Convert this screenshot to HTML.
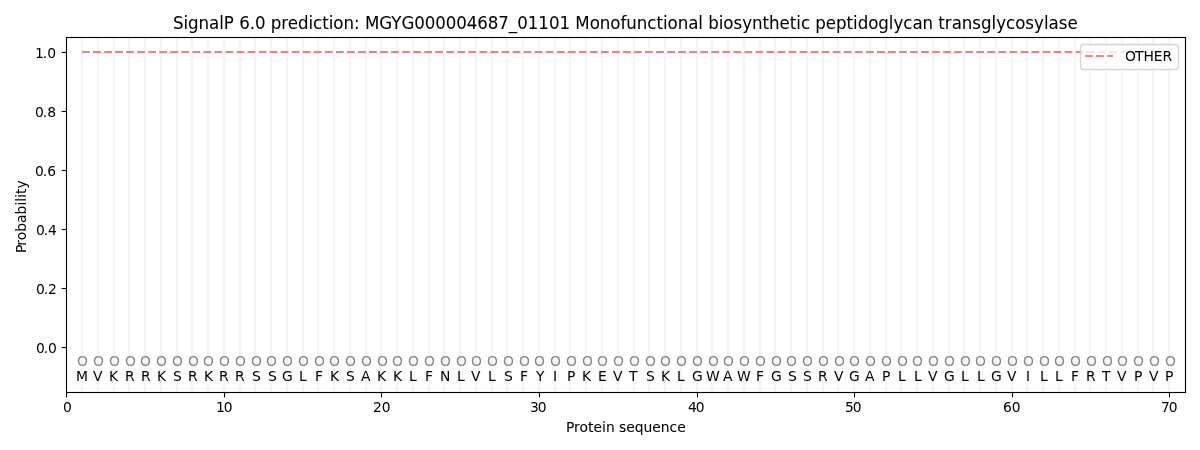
<!DOCTYPE html>
<html lang="en"><head><meta charset="utf-8">
<title>SignalP 6.0 prediction</title>
<style>
html,body{margin:0;padding:0;background:#fff;}
body{width:1200px;height:450px;overflow:hidden;}
svg{display:block;}
text{font-family:"DejaVu Sans","Liberation Sans",sans-serif;font-size:13.889px;fill:#000;}
.t{font-size:16.667px;}
.m{text-anchor:middle;}
.e{text-anchor:end;}
.g text{fill:#848484;}
.b1{stroke:#000;stroke-width:0.05;}
.b2{stroke:#000;stroke-width:0.06;}
.b3{stroke:#000;stroke-width:0.025;}
.fr{stroke:#f08080;stroke-width:4.083;fill:none;stroke-dasharray:7.708 3.333;stroke-opacity:0.052;}
.v{stroke:#f5f5f5;stroke-width:2.2;fill:none;}
.k{stroke:#000;stroke-width:1.111;fill:none;}
.sp{stroke:#000;stroke-width:1.111;fill:none;stroke-linecap:square;}
.d{stroke:#f08080;stroke-width:2.083;fill:none;stroke-dasharray:7.708 3.333;}
</style></head><body>
<svg width="1200" height="450" viewBox="0 0 1200 450">
<rect x="0" y="0" width="1200" height="450" fill="#fff"/>
<g class="v">
<line x1="82" y1="37.5" x2="82" y2="392.5"/>
<line x1="98" y1="37.5" x2="98" y2="392.5"/>
<line x1="114" y1="37.5" x2="114" y2="392.5"/>
<line x1="129" y1="37.5" x2="129" y2="392.5"/>
<line x1="145" y1="37.5" x2="145" y2="392.5"/>
<line x1="161" y1="37.5" x2="161" y2="392.5"/>
<line x1="177" y1="37.5" x2="177" y2="392.5"/>
<line x1="192" y1="37.5" x2="192" y2="392.5"/>
<line x1="208" y1="37.5" x2="208" y2="392.5"/>
<line x1="224" y1="37.5" x2="224" y2="392.5"/>
<line x1="240" y1="37.5" x2="240" y2="392.5"/>
<line x1="255" y1="37.5" x2="255" y2="392.5"/>
<line x1="271" y1="37.5" x2="271" y2="392.5"/>
<line x1="287" y1="37.5" x2="287" y2="392.5"/>
<line x1="303" y1="37.5" x2="303" y2="392.5"/>
<line x1="318" y1="37.5" x2="318" y2="392.5"/>
<line x1="334" y1="37.5" x2="334" y2="392.5"/>
<line x1="350" y1="37.5" x2="350" y2="392.5"/>
<line x1="366" y1="37.5" x2="366" y2="392.5"/>
<line x1="381" y1="37.5" x2="381" y2="392.5"/>
<line x1="397" y1="37.5" x2="397" y2="392.5"/>
<line x1="413" y1="37.5" x2="413" y2="392.5"/>
<line x1="429" y1="37.5" x2="429" y2="392.5"/>
<line x1="444" y1="37.5" x2="444" y2="392.5"/>
<line x1="460" y1="37.5" x2="460" y2="392.5"/>
<line x1="476" y1="37.5" x2="476" y2="392.5"/>
<line x1="492" y1="37.5" x2="492" y2="392.5"/>
<line x1="507" y1="37.5" x2="507" y2="392.5"/>
<line x1="523" y1="37.5" x2="523" y2="392.5"/>
<line x1="539" y1="37.5" x2="539" y2="392.5"/>
<line x1="555" y1="37.5" x2="555" y2="392.5"/>
<line x1="570" y1="37.5" x2="570" y2="392.5"/>
<line x1="586" y1="37.5" x2="586" y2="392.5"/>
<line x1="602" y1="37.5" x2="602" y2="392.5"/>
<line x1="618" y1="37.5" x2="618" y2="392.5"/>
<line x1="634" y1="37.5" x2="634" y2="392.5"/>
<line x1="649" y1="37.5" x2="649" y2="392.5"/>
<line x1="665" y1="37.5" x2="665" y2="392.5"/>
<line x1="681" y1="37.5" x2="681" y2="392.5"/>
<line x1="697" y1="37.5" x2="697" y2="392.5"/>
<line x1="712" y1="37.5" x2="712" y2="392.5"/>
<line x1="728" y1="37.5" x2="728" y2="392.5"/>
<line x1="744" y1="37.5" x2="744" y2="392.5"/>
<line x1="760" y1="37.5" x2="760" y2="392.5"/>
<line x1="775" y1="37.5" x2="775" y2="392.5"/>
<line x1="791" y1="37.5" x2="791" y2="392.5"/>
<line x1="807" y1="37.5" x2="807" y2="392.5"/>
<line x1="823" y1="37.5" x2="823" y2="392.5"/>
<line x1="838" y1="37.5" x2="838" y2="392.5"/>
<line x1="854" y1="37.5" x2="854" y2="392.5"/>
<line x1="870" y1="37.5" x2="870" y2="392.5"/>
<line x1="886" y1="37.5" x2="886" y2="392.5"/>
<line x1="901" y1="37.5" x2="901" y2="392.5"/>
<line x1="917" y1="37.5" x2="917" y2="392.5"/>
<line x1="933" y1="37.5" x2="933" y2="392.5"/>
<line x1="949" y1="37.5" x2="949" y2="392.5"/>
<line x1="964" y1="37.5" x2="964" y2="392.5"/>
<line x1="980" y1="37.5" x2="980" y2="392.5"/>
<line x1="996" y1="37.5" x2="996" y2="392.5"/>
<line x1="1012" y1="37.5" x2="1012" y2="392.5"/>
<line x1="1027" y1="37.5" x2="1027" y2="392.5"/>
<line x1="1043" y1="37.5" x2="1043" y2="392.5"/>
<line x1="1059" y1="37.5" x2="1059" y2="392.5"/>
<line x1="1075" y1="37.5" x2="1075" y2="392.5"/>
<line x1="1090" y1="37.5" x2="1090" y2="392.5"/>
<line x1="1106" y1="37.5" x2="1106" y2="392.5"/>
<line x1="1122" y1="37.5" x2="1122" y2="392.5"/>
<line x1="1138" y1="37.5" x2="1138" y2="392.5"/>
<line x1="1153" y1="37.5" x2="1153" y2="392.5"/>
<line x1="1169" y1="37.5" x2="1169" y2="392.5"/>
</g>
<line class="fr" x1="82" y1="52" x2="1169" y2="52"/>
<line class="d" x1="82" y1="52" x2="1169" y2="52"/>
<g class="k">
<line x1="66.5" y1="392.5" x2="66.5" y2="397.361"/>
<line x1="224.5" y1="392.5" x2="224.5" y2="397.361"/>
<line x1="381.5" y1="392.5" x2="381.5" y2="397.361"/>
<line x1="539.5" y1="392.5" x2="539.5" y2="397.361"/>
<line x1="697.5" y1="392.5" x2="697.5" y2="397.361"/>
<line x1="854.5" y1="392.5" x2="854.5" y2="397.361"/>
<line x1="1012.5" y1="392.5" x2="1012.5" y2="397.361"/>
<line x1="1169.5" y1="392.5" x2="1169.5" y2="397.361"/>
<line x1="61.639" y1="347.5" x2="66.5" y2="347.5"/>
<line x1="61.639" y1="288.5" x2="66.5" y2="288.5"/>
<line x1="61.639" y1="229.5" x2="66.5" y2="229.5"/>
<line x1="61.639" y1="170.5" x2="66.5" y2="170.5"/>
<line x1="61.639" y1="111.5" x2="66.5" y2="111.5"/>
<line x1="61.639" y1="52.5" x2="66.5" y2="52.5"/>
</g>
<g>
<text class="m" x="67.303" y="411.998">0</text>
<text x="215.897 223.772" y="411.998">10</text>
<text x="372.891 381.641" y="411.998">20</text>
<text x="529.947 537.697" y="411.998">30</text>
<text x="687.949 695.699" y="411.998">40</text>
<text x="844.88 852.63" y="411.998">50</text>
<text x="1002.889 1011.764" y="411.998">60</text>
<text x="1160.883 1168.633" y="411.998">70</text>
</g>
<g>
<text x="35.886 43.636 48.011" y="352.7">0.0</text>
<text x="35.951 43.701 48.076" y="293.635">0.2</text>
<text x="35.996 43.746 48.121" y="234.571">0.4</text>
<text x="35.036 42.786 47.161" y="175.506">0.6</text>
<text x="35.026 42.776 47.151" y="117.441">0.8</text>
<text x="34.921 42.796 47.171" y="58.376">1.0</text>
</g>
<text class="b2" x="565.999 574.124 579.624 588.124 593.624 602.124 605.999 614.749 619.124 626.249 634.749 643.624 652.374 660.874 669.624 677.249" y="431.995">Protein sequence</text>
<text class="b3" transform="translate(25.524 214.528) rotate(-90)" x="-38.483 -31.358 -25.858 -17.358 -8.482 0.142 9.018 12.893 16.767 20.642 26.142" y="0">Probability</text>
<rect class="sp" x="66.5" y="37.5" width="1119" height="355"/>
<g class="g">
<text class="m" x="82.404" y="366.427">O</text>
<text class="m" x="98.366" y="366.427">O</text>
<text class="m" x="114.448" y="366.427">O</text>
<text class="m" x="130.354" y="366.427">O</text>
<text class="m" x="145.461" y="366.427">O</text>
<text class="m" x="161.583" y="366.427">O</text>
<text class="m" x="177.574" y="366.427">O</text>
<text class="m" x="193.381" y="366.427">O</text>
<text class="m" x="208.338" y="366.427">O</text>
<text class="m" x="224.369" y="366.427">O</text>
<text class="m" x="240.376" y="366.427">O</text>
<text class="m" x="256.408" y="366.427">O</text>
<text class="m" x="271.364" y="366.427">O</text>
<text class="m" x="287.346" y="366.427">O</text>
<text class="m" x="303.453" y="366.427">O</text>
<text class="m" x="319.434" y="366.427">O</text>
<text class="m" x="334.391" y="366.427">O</text>
<text class="m" x="350.447" y="366.427">O</text>
<text class="m" x="366.569" y="366.427">O</text>
<text class="m" x="382.381" y="366.427">O</text>
<text class="m" x="397.417" y="366.427">O</text>
<text class="m" x="413.379" y="366.427">O</text>
<text class="m" x="429.571" y="366.427">O</text>
<text class="m" x="445.387" y="366.427">O</text>
<text class="m" x="461.549" y="366.427">O</text>
<text class="m" x="476.551" y="366.427">O</text>
<text class="m" x="492.572" y="366.427">O</text>
<text class="m" x="508.339" y="366.427">O</text>
<text class="m" x="524.426" y="366.427">O</text>
<text class="m" x="539.412" y="366.427">O</text>
<text class="m" x="555.584" y="366.427">O</text>
<text class="m" x="571.366" y="366.427">O</text>
<text class="m" x="587.367" y="366.427">O</text>
<text class="m" x="602.409" y="366.427">O</text>
<text class="m" x="618.441" y="366.427">O</text>
<text class="m" x="634.387" y="366.427">O</text>
<text class="m" x="650.529" y="366.427">O</text>
<text class="m" x="665.381" y="366.427">O</text>
<text class="m" x="681.567" y="366.427">O</text>
<text class="m" x="697.544" y="366.427">O</text>
<text class="m" x="713.455" y="366.427">O</text>
<text class="m" x="728.407" y="366.427">O</text>
<text class="m" x="744.434" y="366.427">O</text>
<text class="m" x="760.585" y="366.427">O</text>
<text class="m" x="776.532" y="366.427">O</text>
<text class="m" x="791.519" y="366.427">O</text>
<text class="m" x="807.5" y="366.427">O</text>
<text class="m" x="823.352" y="366.427">O</text>
<text class="m" x="839.404" y="366.427">O</text>
<text class="m" x="854.46" y="366.427">O</text>
<text class="m" x="870.337" y="366.427">O</text>
<text class="m" x="886.449" y="366.427">O</text>
<text class="m" x="902.43" y="366.427">O</text>
<text class="m" x="917.387" y="366.427">O</text>
<text class="m" x="933.364" y="366.427">O</text>
<text class="m" x="949.44" y="366.427">O</text>
<text class="m" x="965.457" y="366.427">O</text>
<text class="m" x="980.414" y="366.427">O</text>
<text class="m" x="996.425" y="366.427">O</text>
<text class="m" x="1012.402" y="366.427">O</text>
<text class="m" x="1028.483" y="366.427">O</text>
<text class="m" x="1044.44" y="366.427">O</text>
<text class="m" x="1059.347" y="366.477">O</text>
<text class="m" x="1075.568" y="366.427">O</text>
<text class="m" x="1091.46" y="366.427">O</text>
<text class="m" x="1107.472" y="366.427">O</text>
<text class="m" x="1122.573" y="366.427">O</text>
<text class="m" x="1138.46" y="366.427">O</text>
<text class="m" x="1154.472" y="366.427">O</text>
<text class="m" x="1170.363" y="366.427">O</text>
</g>
<g>
<text class="m" x="81.969" y="380.788">M</text>
<text class="m" x="97.666" y="380.788">V</text>
<text class="m" x="113.548" y="380.788">K</text>
<text class="m" x="129.704" y="380.788">R</text>
<text class="m" x="145.761" y="380.788">R</text>
<text class="m" x="161.518" y="380.788">K</text>
<text class="m" x="177.324" y="380.788">S</text>
<text class="m" x="192.731" y="380.788">R</text>
<text class="m" x="208.488" y="380.738">K</text>
<text class="m" x="223.844" y="380.788">R</text>
<text class="m" x="239.726" y="380.788">R</text>
<text class="m" x="256.358" y="380.788">S</text>
<text class="m" x="272.284" y="380.788">S</text>
<text class="m" x="287.296" y="380.788">G</text>
<text class="m" x="302.803" y="380.788">L</text>
<text class="m" x="318.874" y="380.788">F</text>
<text class="m" x="334.541" y="380.738">K</text>
<text class="m" x="350.397" y="380.788">S</text>
<text class="m" x="365.724" y="380.788">A</text>
<text class="m" x="381.661" y="380.788">K</text>
<text class="m" x="397.567" y="380.738">K</text>
<text class="m" x="412.924" y="380.788">L</text>
<text class="m" x="428.931" y="380.788">F</text>
<text class="m" x="445.137" y="380.788">N</text>
<text class="m" x="460.819" y="380.788">L</text>
<text class="m" x="475.701" y="380.788">V</text>
<text class="m" x="491.832" y="380.788">L</text>
<text class="m" x="508.339" y="380.788">S</text>
<text class="m" x="524.021" y="380.788">F</text>
<text class="m" x="540.132" y="380.788">Y</text>
<text class="m" x="554.984" y="380.788">I</text>
<text class="m" x="571.116" y="380.788">P</text>
<text class="m" x="586.497" y="380.788">K</text>
<text class="m" x="602.354" y="380.788">E</text>
<text class="m" x="617.636" y="380.788">V</text>
<text class="m" x="633.287" y="380.788">T</text>
<text class="m" x="650.374" y="380.788">S</text>
<text class="m" x="665.431" y="380.738">K</text>
<text class="m" x="680.787" y="380.788">L</text>
<text class="m" x="697.374" y="380.788">G</text>
<text class="m" x="712.775" y="380.738">W</text>
<text class="m" x="727.787" y="380.788">A</text>
<text class="m" x="743.814" y="380.788">W</text>
<text class="m" x="759.92" y="380.788">F</text>
<text class="m" x="776.327" y="380.788">G</text>
<text class="m" x="792.304" y="380.788">S</text>
<text class="m" x="807.34" y="380.788">S</text>
<text class="m" x="822.722" y="380.788">R</text>
<text class="m" x="838.729" y="380.788">V</text>
<text class="m" x="854.31" y="380.788">G</text>
<text class="m" x="869.762" y="380.788">A</text>
<text class="m" x="886.074" y="380.738">P</text>
<text class="m" x="901.78" y="380.788">L</text>
<text class="m" x="917.887" y="380.788">L</text>
<text class="m" x="932.644" y="380.788">V</text>
<text class="m" x="949.325" y="380.788">G</text>
<text class="m" x="964.807" y="380.788">L</text>
<text class="m" x="980.914" y="380.788">L</text>
<text class="m" x="996.345" y="380.788">G</text>
<text class="m" x="1011.677" y="380.788">V</text>
<text class="m" x="1028.008" y="380.788">I</text>
<text class="m" x="1043.94" y="380.788">L</text>
<text class="m" x="1058.947" y="380.788">L</text>
<text class="m" x="1074.953" y="380.788">F</text>
<text class="m" x="1090.71" y="380.788">R</text>
<text class="m" x="1106.217" y="380.788">T</text>
<text class="m" x="1121.723" y="380.788">V</text>
<text class="m" x="1138.13" y="380.738">P</text>
<text class="m" x="1153.737" y="380.788">V</text>
<text class="m" x="1169.243" y="380.788">P</text>
</g>
<text class="t b1" transform="translate(0 29) scale(1 1.07) translate(0 -29)" x="172.999 183.499 188.124 198.624 209.124 219.249 223.874 233.999 239.249 249.749 254.999 265.499 270.749 281.249 287.749 297.999 308.499 313.124 322.249 328.749 333.374 343.499 353.999 359.749 364.999 379.374 391.374 401.499 414.374 424.874 435.374 445.874 456.374 466.874 477.374 487.874 498.374 508.874 517.249 527.749 538.374 548.999 559.499 570.124 575.374 589.749 599.874 610.374 620.499 626.374 636.874 647.374 656.499 662.999 667.624 677.749 688.249 698.374 702.999 708.249 718.749 723.374 733.499 742.249 752.124 762.624 769.124 779.624 789.874 796.374 800.999 810.124 815.374 825.874 836.124 846.624 853.124 857.749 868.249 878.374 888.874 893.499 903.374 912.499 922.624 933.124 938.374 944.874 951.749 961.874 972.374 981.124 991.624 996.249 1006.124 1015.249 1025.374 1034.124 1043.999 1048.624 1058.749 1067.499" y="29">SignalP 6.0 prediction: MGYG000004687_01101 Monofunctional biosynthetic peptidoglycan transglycosylase</text>
<path d="M1083.5 69.5 L1175.5 69.5 Q1178.5 69.5 1178.5 66.5 L1178.5 47.5 Q1178.5 44.5 1175.5 44.5 L1083.5 44.5 Q1080.5 44.5 1080.5 47.5 L1080.5 66.5 Q1080.5 69.5 1083.5 69.5Z" fill="#fff" stroke="#ccc" stroke-width="1.389" stroke-linejoin="miter" opacity="0.8"/>
<line class="d" x1="1085" y1="56" x2="1113" y2="56"/>
<text x="1125.112 1134.987 1143.487 1153.862 1162.612" y="61.387">OTHER</text>
</svg>
</body></html>
